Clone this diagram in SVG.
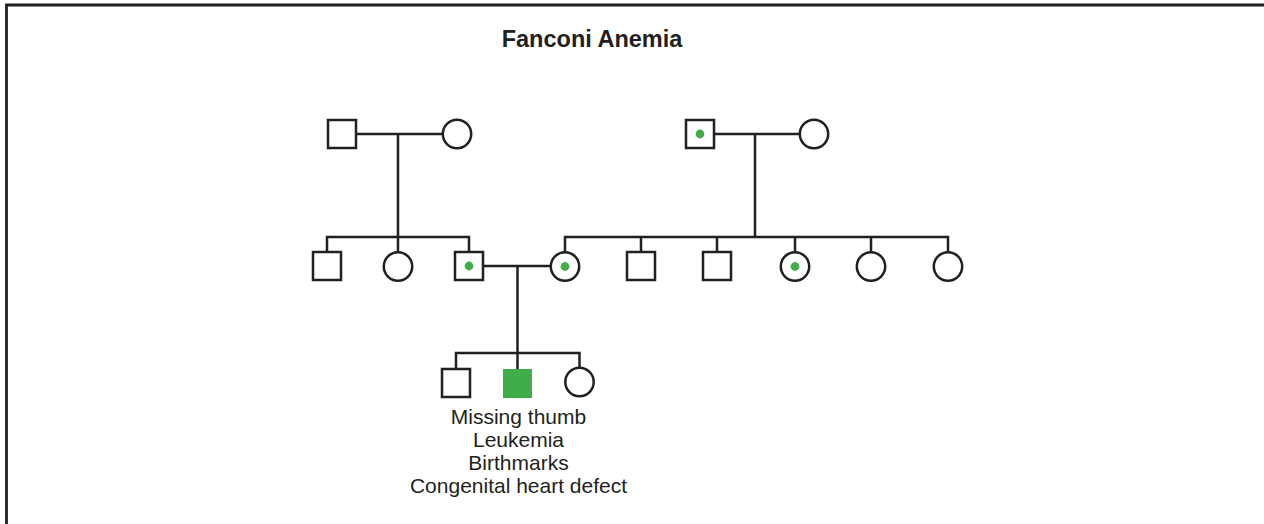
<svg xmlns="http://www.w3.org/2000/svg" width="1264" height="524" viewBox="0 0 1264 524">
<style>
.ln{stroke:#231f20;stroke-width:2.5;fill:none}
.nd{stroke:#231f20;stroke-width:2.5;fill:#ffffff}
.dot{fill:#3fae49}
.aff{fill:#3fae49}
.lbl{font-family:"Liberation Sans",Arial,sans-serif;font-size:21px;fill:#231f20;text-anchor:middle}
.ttl{font-family:"Liberation Sans",Arial,sans-serif;font-size:23.5px;font-weight:bold;fill:#231f20;text-anchor:middle}
</style>
<rect x="0" y="0" width="1264" height="524" fill="#ffffff"/>
<path d="M6.5,524 V5 H1264" stroke="#231f20" stroke-width="2.8" fill="none"/>
<text class="ttl" x="592" y="47">Fanconi Anemia</text>
<g id="connectors" class="ln">
<path d="M356,134 H443"/>
<path d="M398,134 V237"/>
<path d="M327,252 V237 H469 V252"/>
<path d="M398,237 V252"/>
<path d="M714,134 H800"/>
<path d="M755,134 V237"/>
<path d="M565,252 V237 H948 V252"/>
<path d="M641,237 V252"/>
<path d="M717,237 V252"/>
<path d="M795,237 V252"/>
<path d="M871,237 V252"/>
<path d="M483,266 H551"/>
<path d="M517.5,266 V369"/>
<path d="M456,369 V353 H579.5 V368"/>
</g>
<g id="gp1m"><rect class="nd" x="328" y="120" width="28" height="28"/></g>
<g id="gp1f"><circle class="nd" cx="457" cy="134" r="14.2"/></g>
<g id="gp2m"><rect class="nd" x="686" y="120" width="28" height="28"/><circle class="dot" cx="700" cy="134" r="4.4"/></g>
<g id="gp2f"><circle class="nd" cx="814" cy="134" r="14.2"/></g>
<g id="g2a"><rect class="nd" x="313" y="252" width="28" height="28"/></g>
<g id="g2b"><circle class="nd" cx="398" cy="266.5" r="14.2"/></g>
<g id="g2father"><rect class="nd" x="455" y="252" width="28" height="28"/><circle class="dot" cx="469" cy="266" r="4.4"/></g>
<g id="g2mother"><circle class="nd" cx="565" cy="266.5" r="14.2"/><circle class="dot" cx="565" cy="266.5" r="4.4"/></g>
<g id="g2c"><rect class="nd" x="627" y="252" width="28" height="28"/></g>
<g id="g2d"><rect class="nd" x="703" y="252" width="28" height="28"/></g>
<g id="g2e"><circle class="nd" cx="795" cy="266.5" r="14.2"/><circle class="dot" cx="795" cy="266.5" r="4.4"/></g>
<g id="g2f"><circle class="nd" cx="871" cy="266.5" r="14.2"/></g>
<g id="g2g"><circle class="nd" cx="948" cy="266.5" r="14.2"/></g>
<g id="c1"><rect class="nd" x="442" y="369" width="28" height="28"/></g>
<g id="c2"><rect class="aff" x="503" y="369" width="29" height="29"/>
<text class="lbl" x="518.5" y="424">Missing thumb</text>
<text class="lbl" x="518.5" y="447">Leukemia</text>
<text class="lbl" x="518.5" y="470">Birthmarks</text>
<text class="lbl" x="518.5" y="493">Congenital heart defect</text>
</g>
<g id="c3"><circle class="nd" cx="579.5" cy="382" r="14.2"/></g>
</svg>
